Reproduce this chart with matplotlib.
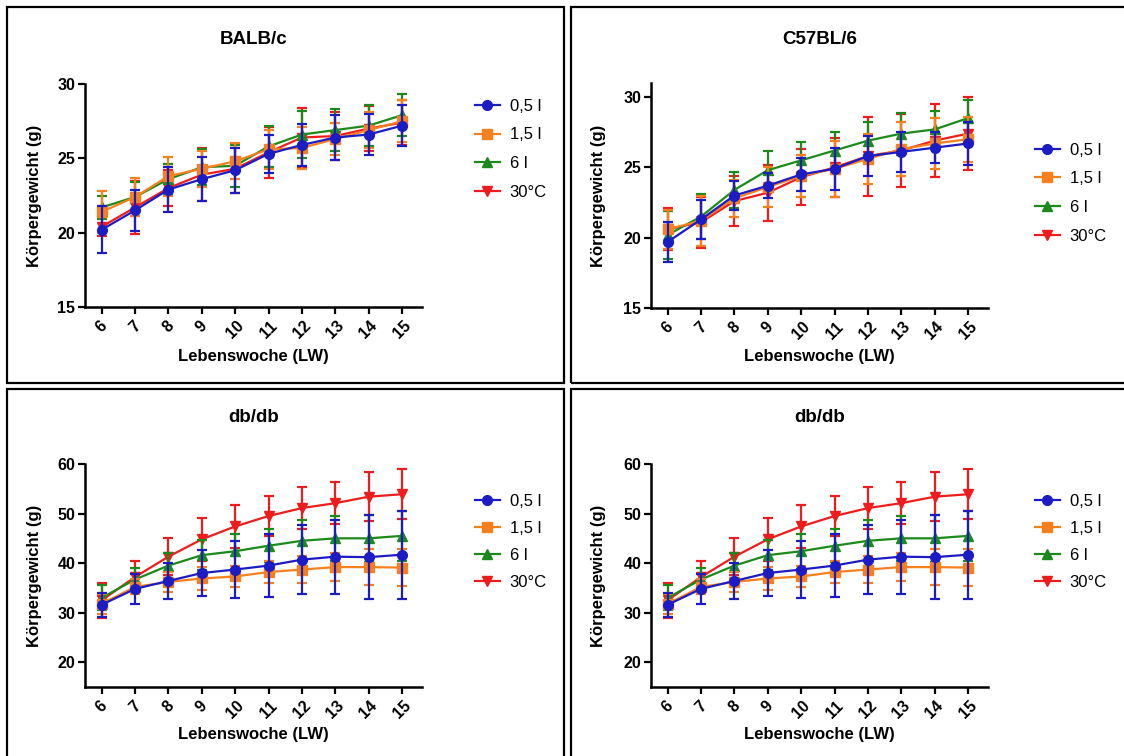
import matplotlib
matplotlib.use("Agg")
import matplotlib.pyplot as plt
from matplotlib.patches import Rectangle
from matplotlib.lines import Line2D
import numpy as np

plt.rcParams['font.family'] = ['Liberation Sans', 'DejaVu Sans']

weeks = [6, 7, 8, 9, 10, 11, 12, 13, 14, 15]
groups = ["0,5 l", "1,5 l", "6 l", "30°C"]
colors = ["#1c1cc4", "#f7801e", "#1b8a1b", "#ee1c1c"]
markers = ["o", "s", "^", "v"]

# BALB/c means and SD
balb_mean = [
    [20.2, 21.5, 22.9, 23.6, 24.2, 25.3, 25.9, 26.4, 26.6, 27.2],
    [21.4, 22.4, 23.8, 24.3, 24.8, 25.6, 25.7, 26.3, 26.9, 27.5],
    [21.7, 22.4, 23.6, 24.4, 24.5, 25.8, 26.6, 26.9, 27.2, 27.9],
    [20.4, 21.7, 23.0, 23.9, 24.3, 25.4, 26.4, 26.5, 27.0, 27.4],
]
balb_sd = [
    [1.6, 1.4, 1.5, 1.5, 1.5, 1.3, 1.4, 1.5, 1.4, 1.4],
    [1.4, 1.3, 1.3, 1.2, 1.2, 1.3, 1.4, 1.1, 1.2, 1.4],
    [0.8, 1.0, 1.0, 1.2, 1.4, 1.4, 1.6, 1.4, 1.4, 1.4],
    [0.6, 1.8, 1.2, 1.8, 1.6, 1.7, 2.0, 1.6, 1.5, 1.5],
]

# C57BL/6 means and SD
c57_mean = [
    [19.7, 21.3, 23.0, 23.7, 24.5, 24.9, 25.8, 26.1, 26.4, 26.7],
    [20.6, 21.2, 22.8, 23.6, 24.4, 24.9, 25.6, 26.3, 26.7, 27.0],
    [20.2, 21.5, 23.4, 24.8, 25.5, 26.2, 26.9, 27.4, 27.7, 28.5],
    [20.6, 21.1, 22.6, 23.2, 24.3, 25.0, 25.8, 26.2, 26.9, 27.4],
]
c57_sd = [
    [1.45, 1.4, 1.0, 0.9, 1.2, 1.5, 1.4, 1.4, 1.1, 1.5],
    [1.4, 1.8, 1.3, 1.4, 1.5, 2.0, 1.8, 1.9, 1.8, 1.6],
    [1.7, 1.6, 1.3, 1.4, 1.3, 1.3, 1.3, 1.5, 1.3, 1.3],
    [1.5, 1.8, 1.8, 2.0, 2.0, 2.1, 2.8, 2.6, 2.6, 2.6],
]

# db/db means and SD
db_mean = [
    [31.6, 34.8, 36.4, 38.0, 38.7, 39.5, 40.7, 41.3, 41.2, 41.7],
    [31.8, 35.2, 36.2, 36.9, 37.3, 38.2, 38.7, 39.2, 39.2, 39.1],
    [33.0, 36.7, 39.5, 41.6, 42.4, 43.5, 44.5, 45.0, 45.0, 45.5],
    [32.5, 37.2, 41.3, 44.8, 47.4, 49.5, 51.1, 52.1, 53.4, 53.9],
]
db_sd = [
    [2.4, 3.0, 3.6, 4.7, 5.7, 6.3, 6.9, 7.5, 8.5, 8.9],
    [2.0, 1.5, 2.1, 2.4, 2.2, 2.2, 2.7, 2.9, 3.6, 3.7],
    [2.5, 2.4, 2.5, 3.0, 3.5, 3.3, 4.1, 4.5, 4.7, 5.0],
    [3.5, 3.3, 3.7, 4.3, 4.3, 4.0, 4.2, 4.2, 5.0, 5.0],
]

panels = [
    dict(title="BALB/c", mean=balb_mean, sd=balb_sd, ylim=(15, 30), yticks=[15, 20, 25, 30],
         box=(85, 84, 422, 307), leg=(468, 92), lsp=0.82, ylabx=35, xlaby=357, titley=40),
    dict(title="C57BL/6", mean=c57_mean, sd=c57_sd, ylim=(15, 31), yticks=[15, 20, 25, 30],
         box=(651, 83, 988, 308), leg=(1028, 136), lsp=0.82, ylabx=598, xlaby=357, titley=40),
    dict(title="db/db", mean=db_mean, sd=db_sd, ylim=(15, 60), yticks=[20, 30, 40, 50, 60],
         box=(85, 464, 422, 687), leg=(468, 487), lsp=0.72, ylabx=35, xlaby=735, titley=418),
    dict(title="db/db", mean=db_mean, sd=db_sd, ylim=(15, 60), yticks=[20, 30, 40, 50, 60],
         box=(651, 464, 988, 687), leg=(1028, 487), lsp=0.72, ylabx=598, xlaby=735, titley=418),
]

W, H = 1124, 756
fig = plt.figure(figsize=(W / 100, H / 100), dpi=100)
fig.patch.set_facecolor("white")

# panel frames
for (x0, y0, x1, y1) in [(7, 7, 564, 383), (571, 7, 1130, 383), (7, 389, 564, 770), (571, 389, 1130, 770)]:
    fig.add_artist(Rectangle((x0 / W, 1 - y1 / H), (x1 - x0) / W, (y1 - y0) / H,
                             transform=fig.transFigure, fill=False, edgecolor="black", lw=1.6))

for p in panels:
    l, t, r, b = p["box"]
    ax = fig.add_axes([l / W, 1 - b / H, (r - l) / W, (b - t) / H])
    for i in reversed(range(4)):
        ax.errorbar(weeks, p["mean"][i], yerr=p["sd"][i], color=colors[i], marker=markers[i],
                    markersize=7, lw=1.6, elinewidth=1.6, capsize=3.8, capthick=1.6,
                    zorder=2 + (3 - i))
    handles = [Line2D([], [], color=colors[i], marker=markers[i], markersize=7, lw=1.6)
               for i in range(4)]
    ax.set_xlim(5.5, 15.6)
    ax.set_ylim(*p["ylim"])
    ax.set_yticks(p["yticks"])
    ax.set_xticks(weeks)
    ax.set_xticklabels([str(w) for w in weeks], rotation=45, ha="center", va="top",
                       fontweight="bold", fontsize=11.5)
    for lab in ax.get_yticklabels():
        lab.set_fontweight("bold")
        lab.set_fontsize(11.5)
    for s in ["top", "right"]:
        ax.spines[s].set_visible(False)
    for s in ["left", "bottom"]:
        ax.spines[s].set_linewidth(1.8)
    ax.tick_params(width=1.6, length=5, pad=2)
    ax.tick_params(axis="x", pad=3)
    cx = (l + r) / 2
    fig.text(cx / W, 1 - p["titley"] / H, p["title"], ha="center", va="center",
             fontsize=13.5, fontweight="bold")
    fig.text(cx / W, 1 - p["xlaby"] / H, "Lebenswoche (LW)", ha="center", va="center",
             fontsize=12, fontweight="bold")
    fig.text(p["ylabx"] / W, 1 - ((t + b) / 2) / H, "Körpergewicht (g)", ha="center", va="center",
             rotation=90, fontsize=12, fontweight="bold")
    lx, ly = p["leg"]
    fig.legend(handles, groups, loc="upper left", bbox_to_anchor=(lx / W, 1 - ly / H),
               bbox_transform=fig.transFigure, frameon=False, fontsize=12,
               handlelength=1.5, handletextpad=0.6, labelspacing=p["lsp"], borderaxespad=0)

fig.savefig("out.png", dpi=100, facecolor="white")
